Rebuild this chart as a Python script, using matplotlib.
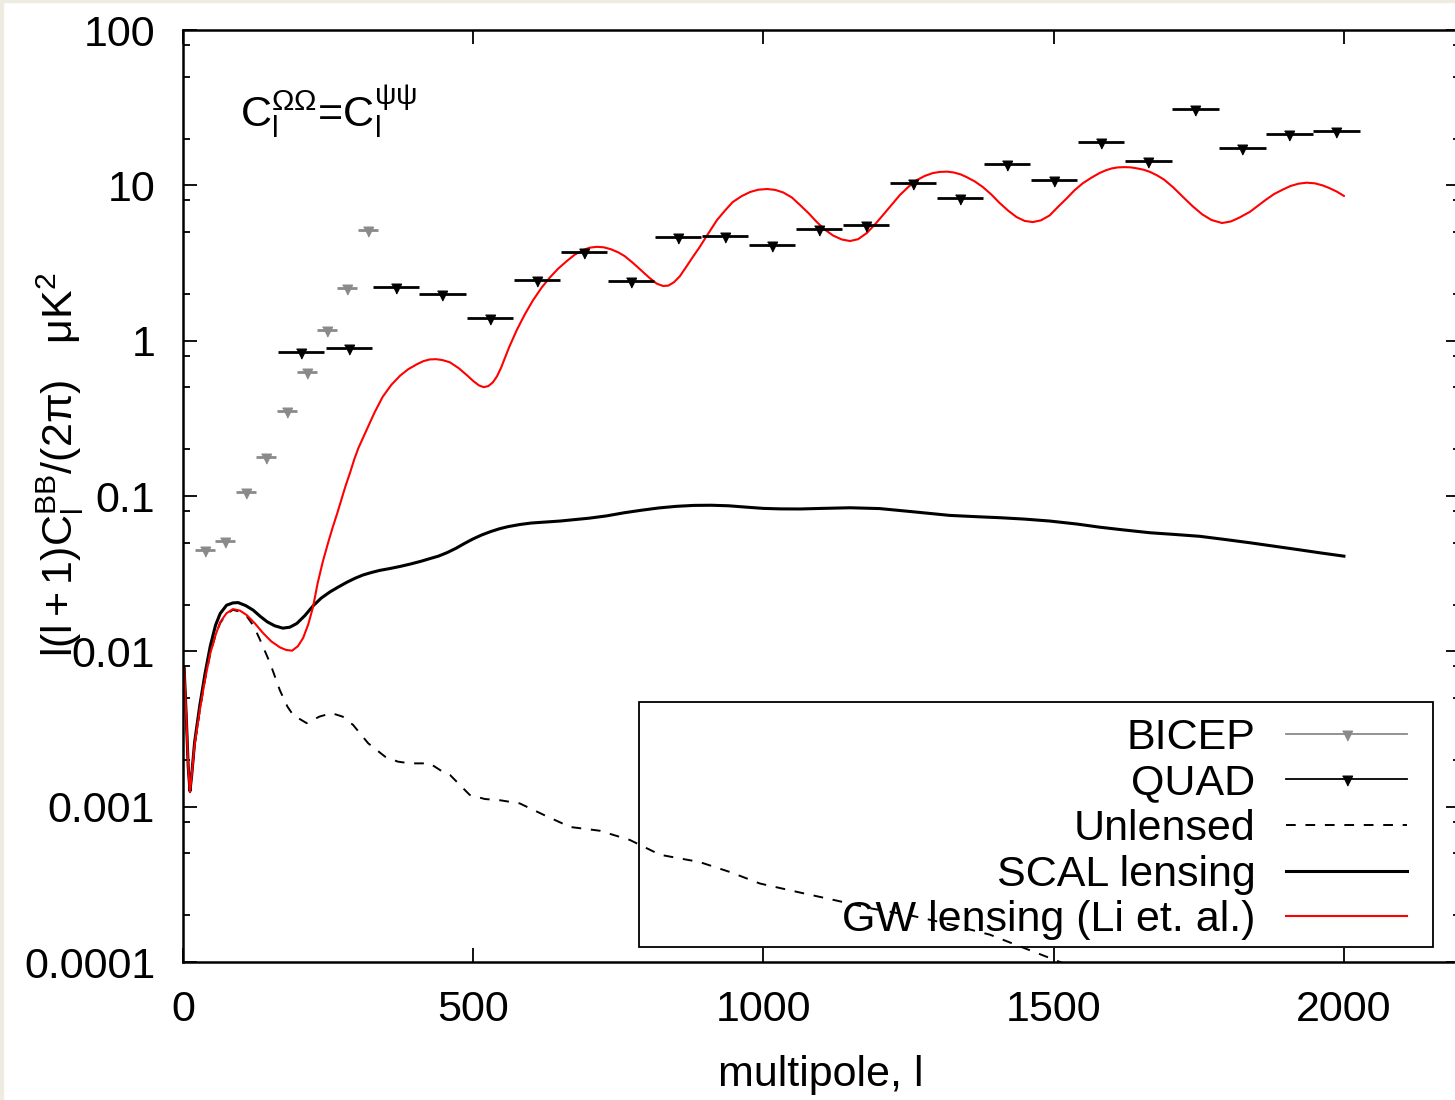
import matplotlib
matplotlib.use('Agg')
import matplotlib.pyplot as plt
from matplotlib.lines import Line2D
from matplotlib.patches import Rectangle
from matplotlib.ticker import LogLocator, NullFormatter, FixedLocator, FixedFormatter

plt.rcParams['font.family'] = ['Liberation Sans', 'DejaVu Sans']
plt.rcParams['mathtext.fontset'] = 'custom'
plt.rcParams['mathtext.rm'] = 'Liberation Sans'
plt.rcParams['mathtext.it'] = 'Liberation Sans:italic'
plt.rcParams['mathtext.bf'] = 'Liberation Sans:bold'

# BICEP band powers
bicep_l = [38, 72, 108, 143, 179, 214, 248, 282, 319]
bicep_val = [0.045, 0.051, 0.106, 0.178, 0.352, 0.628, 1.17, 2.18, 5.15]
bicep_dl = 17

# QUAD band powers
quad_l = [203, 286, 367, 447, 529, 610, 691, 772, 853, 934, 1015, 1096,
          1177, 1258, 1339, 1420, 1501, 1582, 1663, 1744, 1825, 1906, 1987]
quad_val = [0.848, 0.891, 2.20, 1.99, 1.40, 2.45, 3.72, 2.42, 4.65, 4.72,
            4.13, 5.23, 5.55, 10.3, 8.28, 13.7, 10.8, 19.1, 14.4, 31.0,
            17.5, 21.4, 22.5]
quad_dl = 40

# unlensed BB
unl_l = [2, 6, 9, 12, 15, 20, 29, 38, 47, 56, 64, 75, 86, 98, 110, 122, 133,
         150, 167, 180, 190, 213, 235, 256, 275, 293, 319, 348, 370, 391, 425,
         445, 460, 494, 520, 546, 580, 623, 667, 718, 770, 822, 890, 942, 994,
         1063, 1123, 1183, 1252, 1321, 1390, 1459, 1511, 1560]
unl_val = [0.0078, 0.0035, 0.0018, 0.00124, 0.0016, 0.0025, 0.0042, 0.0066,
           0.0097, 0.0127, 0.0152, 0.0174, 0.0185, 0.018, 0.0168, 0.0145,
           0.0118, 0.0084, 0.0056, 0.0044, 0.00388, 0.00345, 0.0038, 0.0040,
           0.0038, 0.00336, 0.00256, 0.0021, 0.00195, 0.0019, 0.0019, 0.0017,
           0.0016, 0.00119, 0.00112, 0.0011, 0.00105, 0.00088, 0.00074,
           0.0007, 0.00061, 0.00049, 0.00044, 0.00038, 0.00032, 0.00028,
           0.00025, 0.000222, 0.0002, 0.000175, 0.00015, 0.000119, 0.0001,
           0.000085]

# scalar lensing BB
scal_l = [2, 6, 9, 12, 15, 20, 29, 38, 47, 56, 64, 75, 86, 95, 108, 121, 133,
          145, 158, 172, 184, 196, 210, 224, 238, 253, 268, 282, 296, 310, 325,
          339, 356, 374, 392, 410, 425, 440, 455, 470, 485, 500, 515, 530, 545,
          560, 580, 600, 625, 650, 675, 700, 730, 760, 790, 820, 850, 880, 910,
          940, 970, 1000, 1030, 1063, 1100, 1149, 1200, 1260, 1321, 1370, 1407,
          1450, 1493, 1540, 1579, 1620, 1666, 1710, 1752, 1795, 1838, 1880,
          1924, 1960, 2000]
scal_val = [0.0078, 0.0035, 0.0018, 0.00126, 0.0016, 0.0026, 0.0045, 0.0072,
            0.0108, 0.0147, 0.0175, 0.0198, 0.0205, 0.0206, 0.0197, 0.0184,
            0.0168, 0.0155, 0.0146, 0.0141, 0.0143, 0.0151, 0.0170, 0.0196,
            0.0220, 0.0241, 0.026, 0.0278, 0.0295, 0.031, 0.0322, 0.0332,
            0.0341, 0.0352, 0.0365, 0.038, 0.0395, 0.041, 0.0432, 0.046,
            0.0495, 0.053, 0.0562, 0.059, 0.0615, 0.0635, 0.0655, 0.067,
            0.068, 0.069, 0.0705, 0.072, 0.0745, 0.078, 0.081, 0.0838, 0.0858,
            0.087, 0.0872, 0.0865, 0.0848, 0.0832, 0.0826, 0.0825, 0.0832,
            0.084, 0.083, 0.079, 0.075, 0.0735, 0.0725, 0.071, 0.069, 0.066,
            0.063, 0.0605, 0.058, 0.0565, 0.055, 0.0525, 0.050, 0.0475, 0.045,
            0.043, 0.041]

# GW lensing (Li et al.)
gw_l = [2, 6, 9, 12, 15, 20, 29, 38, 47, 56, 64, 75, 86, 98, 110, 124, 138,
        152, 167, 178, 188, 198, 207, 216, 224, 232, 241, 250, 258, 266, 273,
        280, 288, 295, 302, 310, 317, 330, 344, 359, 374, 388, 403, 414, 425,
        436, 447, 460, 475, 489, 500, 510, 518, 526, 534, 541, 548, 555, 562,
        575, 589, 603, 618, 632, 646, 661, 675, 689, 701, 713, 725, 737, 750,
        761, 775, 790, 804, 816, 827, 836, 846, 856, 866, 877, 890, 905, 920,
        934, 947, 962, 977, 991, 1006, 1020, 1034, 1049, 1063, 1078, 1092,
        1106, 1120, 1135, 1149, 1163, 1178, 1192, 1206, 1221, 1235, 1250,
        1264, 1278, 1292, 1304, 1316, 1328, 1340, 1350, 1364, 1378, 1393,
        1407, 1422, 1436, 1450, 1464, 1478, 1493, 1508, 1523, 1536, 1550,
        1565, 1579, 1590, 1600, 1611, 1622, 1633, 1644, 1655, 1666, 1678,
        1690, 1706, 1723, 1740, 1756, 1772, 1790, 1805, 1820, 1838, 1852,
        1866, 1880, 1895, 1908, 1922, 1936, 1950, 1963, 1975, 1988, 2000]
gw_val = [0.0078, 0.0035, 0.0018, 0.00124, 0.0016, 0.0025, 0.0042, 0.0066,
          0.0097, 0.0127, 0.0154, 0.0176, 0.0187, 0.0183, 0.0171, 0.0151,
          0.0131, 0.0116, 0.0106, 0.0102, 0.0101, 0.0108, 0.0122, 0.0150,
          0.0193, 0.0275, 0.038, 0.050, 0.063, 0.078, 0.095, 0.116, 0.142,
          0.172, 0.203, 0.236, 0.27, 0.345, 0.435, 0.52, 0.595, 0.655, 0.705,
          0.738, 0.757, 0.76, 0.75, 0.725, 0.665, 0.600, 0.55, 0.515, 0.502,
          0.51, 0.54, 0.59, 0.67, 0.78, 0.91, 1.17, 1.48, 1.82, 2.2, 2.55,
          2.9, 3.25, 3.58, 3.83, 3.97, 4.02, 3.99, 3.88, 3.7, 3.5, 3.17, 2.82,
          2.53, 2.33, 2.25, 2.26, 2.38, 2.6, 2.95, 3.4, 4.0, 4.9, 5.98, 6.9,
          7.8, 8.5, 9.06, 9.37, 9.47, 9.35, 9.0, 8.35, 7.47, 6.6, 5.80, 5.18,
          4.75, 4.48, 4.38, 4.5, 4.93, 5.6, 6.44, 7.5, 8.66, 9.8, 10.8, 11.5,
          12.0, 12.2, 12.25, 12.1, 11.75, 11.3, 10.6, 9.75, 8.7, 7.69, 6.85,
          6.25, 5.9, 5.80, 5.95, 6.4, 7.3, 8.28, 9.3, 10.3, 11.2, 12.0, 12.5,
          12.85, 13.05, 13.1, 13.05, 12.85, 12.6, 12.2, 11.6, 10.9, 9.7, 8.4,
          7.3, 6.5, 5.98, 5.72, 5.85, 6.2, 6.75, 7.4, 8.1, 8.8, 9.4, 9.9,
          10.25, 10.4, 10.3, 10.0, 9.6, 9.1, 8.55]

ytick_vals = [1e-4, 1e-3, 1e-2, 1e-1, 1, 10, 100]
ytick_text = ['0.0001', '0.001', '0.01', '0.1', '1', '10', '100']
xtick_vals = [0, 500, 1000, 1500, 2000]

W, H = 1455, 1100
GRAY = '#8a8a8a'
FS = 31
# triangle marker with the data point at its centroid (like gnuplot)
tri = [(-1, 0.667), (1, 0.667), (0, -1.333)]

fig = plt.figure(figsize=(W / 100, H / 100), dpi=100)
fig.patches.append(Rectangle((0, 0), 3 / W, 1, transform=fig.transFigure,
                             color='#eeece1', zorder=0))
fig.patches.append(Rectangle((0, 1 - 2 / H), 1, 2 / H, transform=fig.transFigure,
                             color='#eeece1', zorder=0))

ax = fig.add_axes([183 / W, 1 - 962 / H, (1460 - 183) / W, (962 - 30) / H])
ax.set_yscale('log')
ax.set_xlim(0, 2200)
ax.set_ylim(1e-4, 100)

ax.plot(unl_l, unl_val, color='black', lw=1.4, dashes=(5, 5))
ax.plot(scal_l, scal_val, color='black', lw=2.2)
ax.plot(gw_l, gw_val, color='red', lw=1.5)

ax.errorbar(bicep_l, bicep_val, xerr=bicep_dl, fmt='none', ecolor=GRAY,
            elinewidth=2, capsize=0)
ax.plot(bicep_l, bicep_val, ls='none', marker=tri, ms=9.5, color=GRAY)
ax.errorbar(quad_l, quad_val, xerr=quad_dl, fmt='none', ecolor='black',
            elinewidth=2, capsize=0)
ax.plot(quad_l, quad_val, ls='none', marker=tri, ms=9.5, color='black')

for s in ax.spines.values():
    s.set_linewidth(1.8)

ax.xaxis.set_major_locator(FixedLocator(xtick_vals))
ax.yaxis.set_major_locator(FixedLocator(ytick_vals))
ax.yaxis.set_major_formatter(FixedFormatter(ytick_text))
ax.yaxis.set_minor_locator(LogLocator(base=10, subs=(2, 5, 8), numticks=20))
ax.yaxis.set_minor_formatter(NullFormatter())
ax.tick_params(which='both', direction='in', top=True, right=True,
               labelsize=FS, pad=20)
ax.tick_params(which='major', length=10, width=1.3)
ax.tick_params(which='minor', length=5, width=1.3)

ax.text((240 - 183) / (1460 - 183), (962 - 127) / 932,
        r'$\mathregular{C_l^{ΩΩ}}$=$\mathregular{C_l^{ψψ}}$', fontsize=FS,
        transform=ax.transAxes, va='baseline', ha='left')

fig.text(60 / W, 1 - 465 / H, r'$\mathregular{l(l+1)C_l^{BB}/(2π)\ \ \ μK^2}$',
         fontsize=FS, rotation=90, ha='center', va='center')
fig.text(821 / W, 1 - 1075 / H, 'multipole, l', fontsize=FS,
         ha='center', va='center')

handles = [
    Line2D([], [], color=GRAY, lw=1.3, marker=tri, ms=9.5),
    Line2D([], [], color='black', lw=1.3, marker=tri, ms=9.5),
    Line2D([], [], color='black', lw=1.4, dashes=(5, 5)),
    Line2D([], [], color='black', lw=2.2),
    Line2D([], [], color='red', lw=1.5),
]
labels = ['BICEP', 'QUAD', 'Unlensed', 'SCAL lensing', 'GW lensing (Li et. al.)']
ax.legend(handles, labels, loc='center right', frameon=False, markerfirst=False,
          fontsize=FS, handlelength=2.8, handletextpad=0.72, borderpad=0,
          borderaxespad=0, labelspacing=0.13, numpoints=1,
          bbox_to_anchor=(1407 / W, 1 - 829 / H), bbox_transform=fig.transFigure)
ax.add_patch(Rectangle((639 / W, 1 - 947 / H), 794 / W, 245 / H,
                       transform=fig.transFigure, fill=False,
                       edgecolor='black', lw=1.3, zorder=5))

fig.savefig('out.png', dpi=100)
